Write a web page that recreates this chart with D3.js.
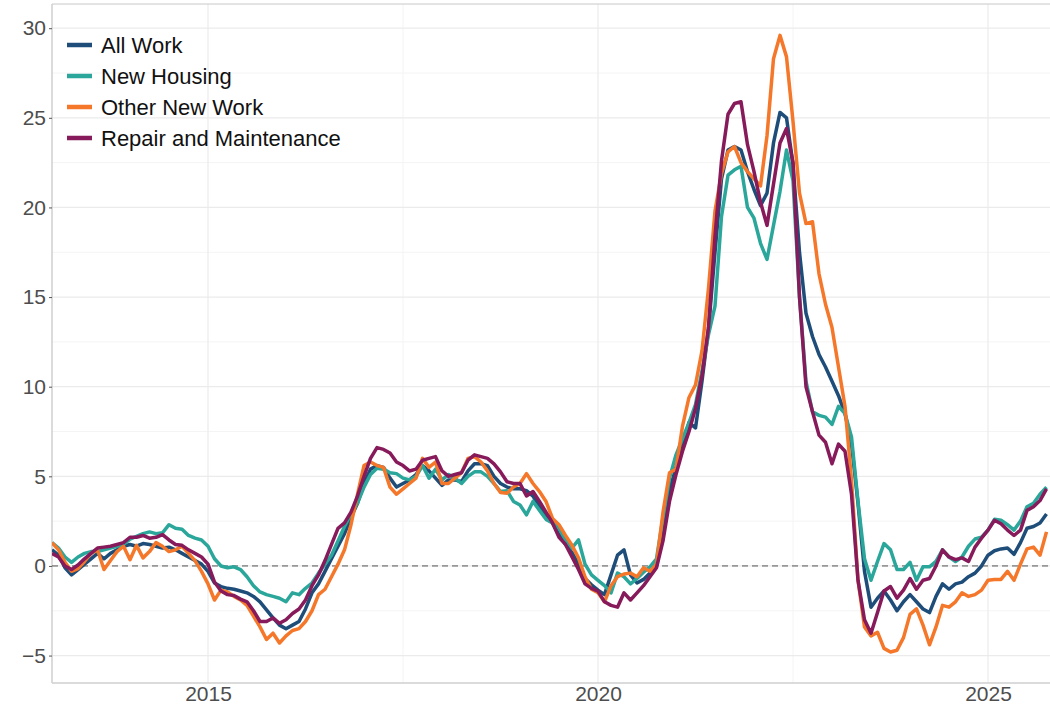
<!DOCTYPE html>
<html>
<head>
<meta charset="utf-8">
<script src="https://cdn.jsdelivr.net/npm/d3@7"></script>
<style>
  html, body { margin: 0; padding: 0; background: #fff; }
  svg { display: block; font-family: "Liberation Sans", Arial, sans-serif; }
</style>
</head>
<body>
<div id="chart"></div>
<script>
// Monthly series, Jan 2013 .. Oct 2025 (one row per year)
const startYear = 2013;

const allWork = [
  0.9, 0.6, -0.1, -0.5, -0.2, 0.1, 0.4, 0.7, 0.4, 0.7, 0.9, 1.1,
  1.2, 1.1, 1.25, 1.2, 1.1, 1.0, 1.05, 0.9, 0.7, 0.5, 0.3, 0.1,
  -0.3, -0.95, -1.15, -1.25, -1.3, -1.4, -1.5, -1.7, -2.0, -2.45, -2.9, -3.3,
  -3.5, -3.3, -3.1, -2.4, -1.5, -1.0, -0.3, 0.4, 1.1, 1.8, 2.7, 3.5,
  4.6, 5.4, 5.6, 5.5, 4.9, 4.4, 4.6, 4.8, 5.1, 5.6, 5.3, 4.9,
  4.5, 4.8, 4.8, 4.7, 5.3, 5.7, 5.7, 5.6, 5.0, 4.6, 4.4, 4.3,
  4.3, 4.2, 3.9, 3.3, 2.85, 2.4, 1.75, 1.2, 0.75, 0.1, -0.7, -1.05,
  -1.35, -1.6, -0.5, 0.6, 0.9, -0.5, -0.95, -0.75, -0.4, 0.0, 2.3, 4.2,
  5.5, 6.7, 8.0, 7.7, 10.3, 13.2, 17.5, 21.6, 23.2, 23.4, 23.2, 22.0,
  21.0, 20.1, 20.8, 23.6, 25.3, 25.0, 22.4, 17.5, 14.1, 12.8, 11.8, 11.1,
  10.3, 9.5, 8.5, 6.8, 3.5, -0.3, -2.3, -1.8, -1.4, -1.9, -2.5, -2.0,
  -1.6, -2.0, -2.4, -2.6, -1.7, -1.0, -1.3, -1.0, -0.9, -0.6, -0.4, 0.0,
  0.6, 0.85, 0.95, 1.0, 0.65, 1.3, 2.1, 2.2, 2.4, 2.9
];

const newHousing = [
  1.3, 1.0, 0.5, 0.2, 0.5, 0.7, 0.8, 0.8, 0.9, 1.0, 1.1, 1.2,
  1.5, 1.65, 1.8, 1.9, 1.8, 1.85, 2.3, 2.1, 2.05, 1.7, 1.55, 1.45,
  1.1, 0.4, 0.0, -0.1, -0.05, -0.2, -0.6, -1.1, -1.45, -1.6, -1.7, -1.8,
  -2.0, -1.5, -1.6, -1.25, -0.95, -0.4, 0.1, 0.6, 1.4, 2.2, 2.9, 3.5,
  4.4, 5.1, 5.45, 5.4, 5.2, 5.15, 4.9, 4.8, 5.0, 5.6, 4.9, 5.4,
  4.8, 5.1, 4.9, 4.6, 5.0, 5.25, 5.25, 5.0, 4.6, 4.15, 4.2, 3.6,
  3.4, 2.85, 3.6, 3.1, 2.6, 2.4, 2.1, 1.45, 1.0, 1.45, 0.1, -0.5,
  -0.8, -1.1, -1.5, -0.4, -0.6, -1.0, -0.7, -0.35, -0.05, 0.4, 2.7, 4.9,
  6.2, 7.1, 8.0, 9.0, 10.9, 12.9, 14.5, 19.5, 21.8, 22.1, 22.3, 20.0,
  19.4, 18.0, 17.1, 19.0, 20.9, 23.2, 21.5, 15.0, 10.3, 8.6, 8.4, 8.3,
  7.9, 8.9, 8.5, 7.2, 3.6, 0.4, -0.8, 0.25, 1.25, 0.9, -0.2, -0.2,
  0.2, -0.8, -0.05, -0.05, 0.25, 0.9, 0.5, 0.25, 0.5, 1.1, 1.5, 1.6,
  2.0, 2.6, 2.55, 2.3, 2.0, 2.5, 3.3, 3.5, 4.0, 4.4
];

const otherNewWork = [
  1.3, 0.9, 0.2, -0.3, -0.15, 0.25, 0.7, 0.9, -0.2, 0.3, 0.8, 1.1,
  0.35, 1.15, 0.45, 0.8, 1.3, 1.1, 0.8, 0.9, 1.1, 0.7, 0.3, -0.3,
  -1.0, -1.9, -1.35, -1.45, -1.7, -1.9, -2.2, -2.8, -3.4, -4.1, -3.75, -4.3,
  -3.9, -3.6, -3.5, -3.1, -2.5, -1.6, -1.3, -0.6, 0.1, 0.9, 2.3, 4.0,
  5.6, 5.8, 5.6, 5.5, 4.4, 4.0, 4.3, 4.6, 4.9, 6.0, 5.5, 5.8,
  4.6, 4.6, 4.9, 5.2, 6.0, 6.1, 5.8, 5.3, 4.6, 4.1, 4.05, 4.4,
  4.6, 5.15, 4.6, 4.15, 3.6, 2.65, 2.3, 1.7, 1.15, 0.45, -0.6, -1.3,
  -1.5, -2.0, -1.1, -0.6, -0.45, -0.4, -0.6, -0.1, -0.3, 0.1, 3.0, 5.2,
  5.4, 7.8, 9.4, 10.1, 12.0, 15.5, 19.8, 21.9, 23.1, 23.4, 22.5, 22.0,
  21.6, 21.2, 24.0, 28.3, 29.6, 28.4, 24.8, 20.8, 19.1, 19.2, 16.3, 14.6,
  13.3, 11.1, 8.9, 4.8, -0.8, -3.4, -3.9, -3.7, -4.6, -4.8, -4.7, -4.0,
  -2.7, -2.4, -3.3, -4.4, -3.4, -2.2, -2.3, -2.0, -1.5, -1.7, -1.6, -1.35,
  -0.8, -0.75, -0.75, -0.3, -0.8, 0.1, 0.95, 1.05, 0.6, 1.9
];

const repairMaint = [
  0.7, 0.5, 0.0, -0.2, 0.05, 0.4, 0.7, 1.0, 1.05, 1.1, 1.2, 1.3,
  1.6, 1.6, 1.7, 1.55, 1.6, 1.75, 1.45, 1.2, 1.15, 0.9, 0.7, 0.5,
  0.1, -0.9, -1.4, -1.6, -1.65, -1.85, -2.0, -2.5, -3.1, -3.1, -2.9, -3.2,
  -3.0, -2.65, -2.4, -1.9, -1.1, -0.5, 0.3, 1.2, 2.1, 2.4, 3.0, 3.9,
  5.0, 6.0, 6.6, 6.5, 6.3, 5.8, 5.6, 5.3, 5.4, 5.9, 6.0, 6.1,
  5.3, 5.0, 5.1, 5.2, 5.9, 6.2, 6.1, 6.0, 5.7, 5.25, 4.7, 4.6,
  4.6, 3.9, 4.15, 3.6, 3.0, 2.4, 1.6, 1.2, 0.5, -0.2, -1.0, -1.25,
  -1.4, -2.0, -2.2, -2.3, -1.5, -1.9, -1.5, -1.1, -0.6, -0.1, 1.4, 3.6,
  5.1, 6.4, 7.5, 8.8, 10.6, 13.3, 18.4, 22.6, 25.2, 25.8, 25.9, 23.5,
  22.0, 20.3, 19.0, 21.3, 23.6, 24.4, 22.5, 15.0, 10.0, 8.6, 7.3, 6.9,
  5.7, 6.8, 6.4, 4.0, -0.8, -3.0, -3.75, -2.6, -1.4, -1.15, -1.8, -1.35,
  -0.7, -1.3, -0.8, -0.7, 0.0, 0.9, 0.5, 0.35, 0.45, 0.25, 1.05, 1.55,
  2.0, 2.55, 2.35, 2.0, 1.7, 2.0, 3.1, 3.3, 3.65, 4.3
];

const seriesNames = ['All Work', 'New Housing', 'Other New Work', 'Repair and Maintenance'];
const seriesColors = ['#1d4d78', '#2aa69b', '#f5772a', '#861a5a'];
const seriesValues = [allWork, newHousing, otherNewWork, repairMaint];

const yTicks = [-5, 0, 5, 10, 15, 20, 25, 30];
const yMinorTicks = [-2.5, 2.5, 7.5, 12.5, 17.5, 22.5, 27.5];
const xTicks = [2015, 2020, 2025];
const xMinorTicks = [2017.5, 2022.5];

const width = 1050, height = 706;
const plotLeft = 52, plotTop = 4, plotBottom = 683, plotRight = 1050;

const svg = d3.select('#chart').append('svg')
    .attr('width', width)
    .attr('height', height);

const x = d3.scaleLinear()
    .domain([2013, 2013 + (plotRight - plotLeft) / 78])
    .range([plotLeft, plotRight]);

const y = d3.scaleLinear()
    .domain([-6.53, 31.35])
    .range([plotBottom, plotTop]);

// grid
const grid = svg.append('g');
grid.selectAll('.ymin').data(yMinorTicks).enter().append('line')
    .attr('x1', plotLeft).attr('x2', plotRight)
    .attr('y1', d => y(d)).attr('y2', d => y(d))
    .attr('stroke', '#f4f4f4').attr('stroke-width', 1);
grid.selectAll('.xmin').data(xMinorTicks).enter().append('line')
    .attr('x1', d => x(d)).attr('x2', d => x(d))
    .attr('y1', plotTop).attr('y2', plotBottom)
    .attr('stroke', '#f4f4f4').attr('stroke-width', 1);
grid.selectAll('.ymaj').data(yTicks).enter().append('line')
    .attr('x1', plotLeft).attr('x2', plotRight)
    .attr('y1', d => y(d)).attr('y2', d => y(d))
    .attr('stroke', '#ebebeb').attr('stroke-width', 1.2);
grid.selectAll('.xmaj').data(xTicks).enter().append('line')
    .attr('x1', d => x(d)).attr('x2', d => x(d))
    .attr('y1', plotTop).attr('y2', plotBottom)
    .attr('stroke', '#ebebeb').attr('stroke-width', 1.2);

// frame: top, left, bottom
svg.append('line').attr('x1', plotLeft).attr('x2', plotRight).attr('y1', plotTop).attr('y2', plotTop)
    .attr('stroke', '#c8c8c8').attr('stroke-width', 1);
svg.append('line').attr('x1', plotLeft).attr('x2', plotLeft).attr('y1', plotTop).attr('y2', plotBottom)
    .attr('stroke', '#cfcfcf').attr('stroke-width', 1.5);
svg.append('line').attr('x1', plotLeft).attr('x2', plotRight).attr('y1', plotBottom).attr('y2', plotBottom)
    .attr('stroke', '#cfcfcf').attr('stroke-width', 1.5);

// zero line
svg.append('line')
    .attr('x1', plotLeft).attr('x2', plotRight)
    .attr('y1', y(0)).attr('y2', y(0))
    .attr('stroke', '#555').attr('stroke-width', 1)
    .attr('stroke-dasharray', '6,4');

// axes
const yAxis = svg.append('g')
    .attr('transform', `translate(${plotLeft},0)`)
    .call(d3.axisLeft(y).tickValues(yTicks).tickSize(3).tickPadding(3));
yAxis.select('.domain').remove();
yAxis.selectAll('line').attr('stroke', '#555');
yAxis.selectAll('text').attr('fill', '#4d4d4d').style('font-size', '21px');

const xAxis = svg.append('g')
    .attr('transform', `translate(0,${plotBottom})`)
    .call(d3.axisBottom(x).tickValues(xTicks).tickFormat(d3.format('d')).tickSize(0).tickPadding(3));
xAxis.select('.domain').remove();
xAxis.selectAll('text').attr('fill', '#4d4d4d').style('font-size', '21px');

// lines
svg.append('clipPath').attr('id', 'plot-clip')
    .append('rect').attr('x', plotLeft).attr('y', plotTop)
    .attr('width', plotRight - plotLeft).attr('height', plotBottom - plotTop);

const line = d3.line()
    .x((d, i) => x(startYear + i / 12))
    .y(d => y(d));

svg.append('g').attr('clip-path', 'url(#plot-clip)')
    .selectAll('path')
    .data(seriesValues)
    .enter()
    .append('path')
    .attr('d', d => line(d))
    .attr('fill', 'none')
    .attr('stroke', (d, i) => seriesColors[i])
    .attr('stroke-width', 3.5)
    .attr('stroke-linejoin', 'round');

// legend
const legend = svg.append('g').attr('transform', 'translate(67,45)');
seriesNames.forEach((name, i) => {
    const row = legend.append('g').attr('transform', `translate(0,${i * 31})`);
    row.append('line')
        .attr('x1', 0).attr('x2', 25)
        .attr('stroke', seriesColors[i]).attr('stroke-width', 4.5);
    row.append('text')
        .attr('x', 34).attr('y', 0).attr('dy', '0.35em')
        .attr('fill', '#111')
        .style('font-size', '22px')
        .text(name);
});
</script>
</body>
</html>
